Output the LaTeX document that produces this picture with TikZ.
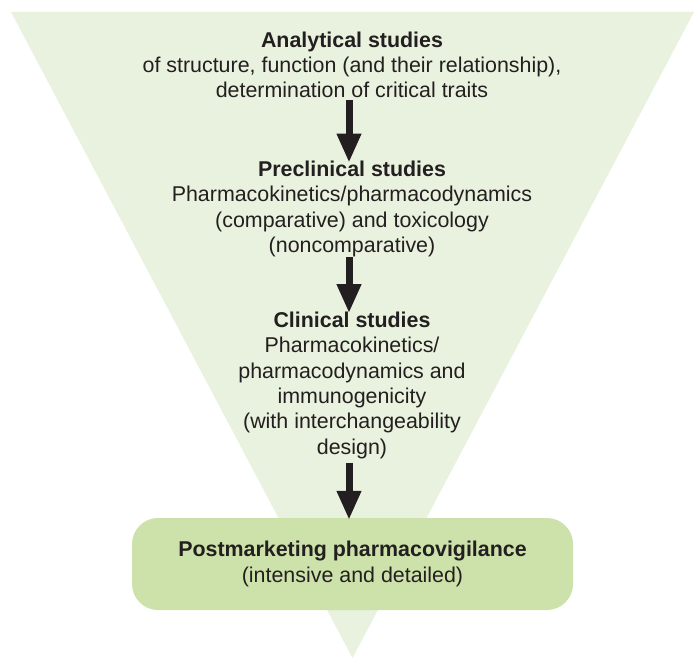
\documentclass[tikz,border=0pt]{standalone}
\usepackage{fontspec}
\setmainfont{Liberation Sans}
\usetikzlibrary{arrows.meta}
\definecolor{trifill}{RGB}{233,242,222}
\definecolor{boxfill}{RGB}{205,226,170}
\definecolor{ink}{RGB}{35,31,32}
\begin{document}
\begin{tikzpicture}[x=1pt,y=-1pt,
  txt/.style={align=center,inner sep=0pt,text=ink,font=\fontsize{21.4}{25.4}\selectfont,anchor=base},
  pmbox/.style={fill=boxfill,rounded corners=26pt,minimum width=441pt,minimum height=92pt,inner sep=0pt,align=center,text=ink,font=\fontsize{21.4}{25.4}\selectfont},
  arr/.style={draw=ink,fill=ink,line width=7pt,-{Triangle[length=29pt,width=23pt]}}]
\useasboundingbox (0,0) rectangle (694,658);
\fill[trifill] (11,12) -- (694,12) -- (352.5,658) -- cycle;
\coordinate (ax) at (349,0);
\node[txt] (ana) at (352,98) {\textbf{Analytical studies}\\of structure, function (and their relationship),\\determination of critical traits};
\node[txt] (pre) at (352,252.5) {\textbf{Preclinical studies}\\Pharmacokinetics/pharmacodynamics\\(comparative) and toxicology\\(noncomparative)};
\node[txt] (cli) at (352,454.3) {\textbf{Clinical studies}\\Pharmacokinetics/\\pharmacodynamics and\\immunogenicity\\(with interchangeability\\design)};
\node[pmbox] (pm) at (352.5,564) {\textbf{Postmarketing pharmacovigilance}\\(intensive and detailed)};
\draw[arr,shorten <=2pt,shorten >=-2pt] (ana.south -| ax) -- (pre.north -| ax);
\draw[arr,shorten >=-1.5pt] (pre.south -| ax) -- (cli.north -| ax);
\draw[arr,shorten <=4pt,shorten >=-2pt] (cli.south -| ax) -- (pm.north -| ax);
\end{tikzpicture}
\end{document}
